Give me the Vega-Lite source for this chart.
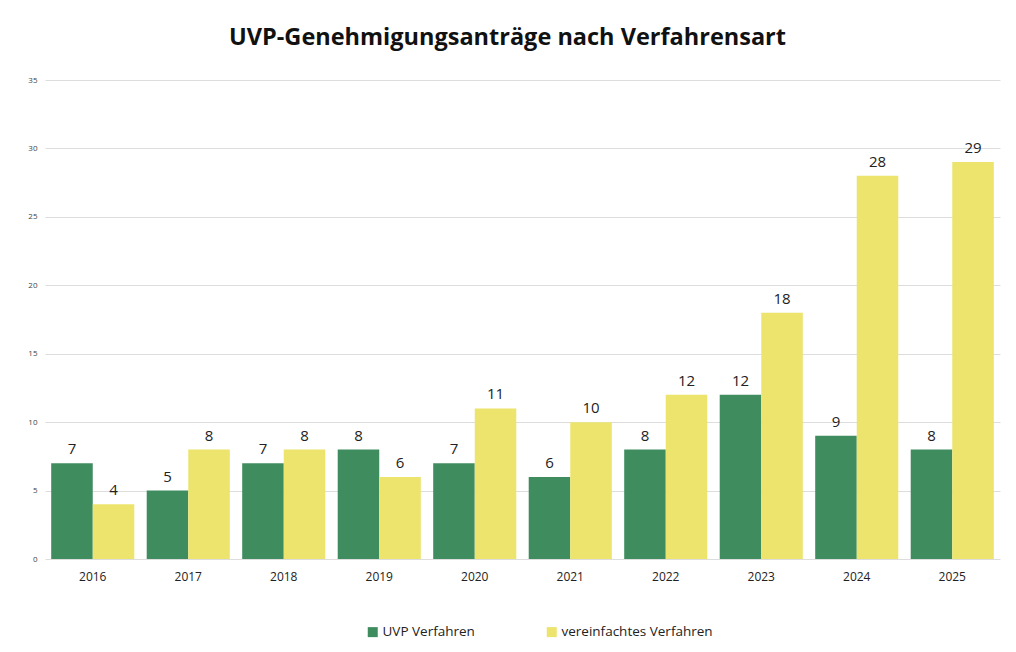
{
  "$schema": "https://vega.github.io/schema/vega-lite/v6.json",
  "width": 955,
  "height": 479,
  "autosize": {"type": "none"},
  "padding": {"left": 45, "top": 80, "right": 16, "bottom": 93},
  "background": "white",
  "config": {
    "font": "Open Sans",
    "view": {"stroke": null}
  },
  "title": {
    "text": "UVP-Genehmigungsanträge nach Verfahrensart",
    "font": "Open Sans",
    "fontSize": 23.5,
    "fontWeight": "bold",
    "color": "#111111",
    "anchor": "middle",
    "dx": -15,
    "offset": 27
  },
  "data": {
    "values": [
      {"Jahr": "2016", "Verfahren": "UVP Verfahren", "Anzahl": 7},
      {"Jahr": "2016", "Verfahren": "vereinfachtes Verfahren", "Anzahl": 4},
      {"Jahr": "2017", "Verfahren": "UVP Verfahren", "Anzahl": 5},
      {"Jahr": "2017", "Verfahren": "vereinfachtes Verfahren", "Anzahl": 8},
      {"Jahr": "2018", "Verfahren": "UVP Verfahren", "Anzahl": 7},
      {"Jahr": "2018", "Verfahren": "vereinfachtes Verfahren", "Anzahl": 8},
      {"Jahr": "2019", "Verfahren": "UVP Verfahren", "Anzahl": 8},
      {"Jahr": "2019", "Verfahren": "vereinfachtes Verfahren", "Anzahl": 6},
      {"Jahr": "2020", "Verfahren": "UVP Verfahren", "Anzahl": 7},
      {"Jahr": "2020", "Verfahren": "vereinfachtes Verfahren", "Anzahl": 11},
      {"Jahr": "2021", "Verfahren": "UVP Verfahren", "Anzahl": 6},
      {"Jahr": "2021", "Verfahren": "vereinfachtes Verfahren", "Anzahl": 10},
      {"Jahr": "2022", "Verfahren": "UVP Verfahren", "Anzahl": 8},
      {"Jahr": "2022", "Verfahren": "vereinfachtes Verfahren", "Anzahl": 12},
      {"Jahr": "2023", "Verfahren": "UVP Verfahren", "Anzahl": 12},
      {"Jahr": "2023", "Verfahren": "vereinfachtes Verfahren", "Anzahl": 18},
      {"Jahr": "2024", "Verfahren": "UVP Verfahren", "Anzahl": 9},
      {"Jahr": "2024", "Verfahren": "vereinfachtes Verfahren", "Anzahl": 28},
      {"Jahr": "2025", "Verfahren": "UVP Verfahren", "Anzahl": 8},
      {"Jahr": "2025", "Verfahren": "vereinfachtes Verfahren", "Anzahl": 29}
    ]
  },
  "encoding": {
    "x": {
      "field": "Jahr",
      "type": "nominal",
      "title": null,
      "scale": {"paddingInner": 0.13, "paddingOuter": 0.065},
      "axis": {
        "domain": false,
        "ticks": false,
        "labelAngle": 0,
        "labelFontSize": 12,
        "labelColor": "#222222",
        "labelPadding": 12,
        "grid": false
      }
    },
    "xOffset": {
      "field": "Verfahren",
      "type": "nominal",
      "sort": ["UVP Verfahren", "vereinfachtes Verfahren"],
      "scale": {"paddingInner": 0, "paddingOuter": 0}
    },
    "y": {
      "field": "Anzahl",
      "type": "quantitative",
      "title": null,
      "scale": {"domain": [0, 35]},
      "axis": {
        "values": [0, 5, 10, 15, 20, 25, 30, 35],
        "domain": false,
        "ticks": false,
        "labelFontSize": 8,
        "labelColor": "#444444",
        "labelPadding": 8,
        "gridColor": "#dddddd",
        "gridWidth": 1
      }
    }
  },
  "layer": [
    {
      "mark": {"type": "bar"},
      "encoding": {
        "color": {
          "field": "Verfahren",
          "type": "nominal",
          "scale": {
            "domain": ["UVP Verfahren", "vereinfachtes Verfahren"],
            "range": ["#3f8c5f", "#ece46d"]
          },
          "legend": {
            "title": null,
            "orient": "none",
            "direction": "horizontal",
            "legendX": 321,
            "legendY": 545,
            "symbolType": "square",
            "symbolSize": 100,
            "symbolStrokeWidth": 0,
            "labelFontSize": 13.5,
            "labelColor": "#222222",
            "labelOffset": 3,
            "columnPadding": 70
          }
        }
      }
    },
    {
      "mark": {"type": "text", "baseline": "alphabetic", "dy": -9, "fontSize": 15, "color": "#222222"},
      "encoding": {
        "text": {"field": "Anzahl", "type": "quantitative"}
      }
    }
  ]
}
